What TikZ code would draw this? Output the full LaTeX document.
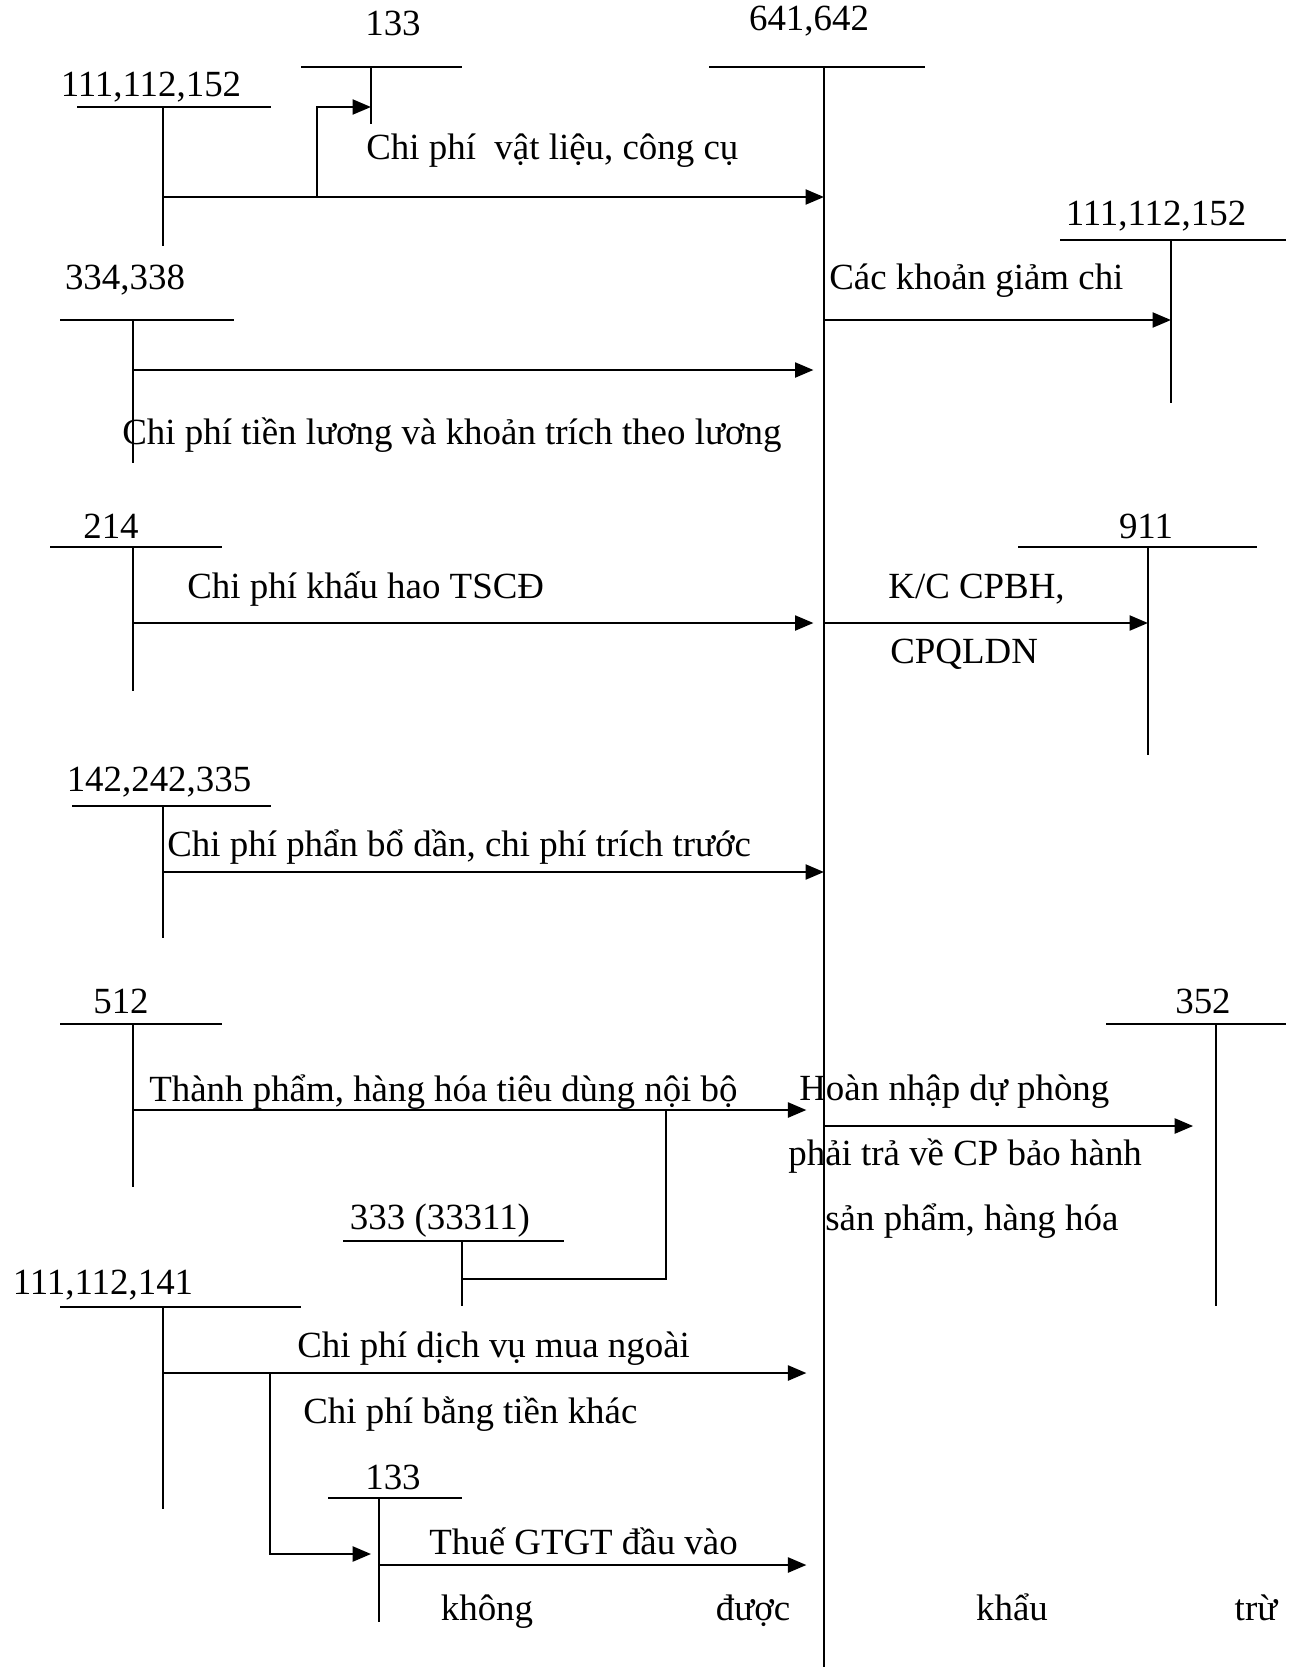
\documentclass[tikz,border=0pt]{standalone}
\usepackage{fontspec}
\setmainfont{Liberation Serif}
\usetikzlibrary{arrows.meta}
\tikzset{
    tline/.style = {line width=0.9pt},
    edgen/.style = {-{Triangle[length=10.5pt,width=8.5pt]},line width=1.4pt},
    edgep/.style = {line width=1.4pt},
    gap/.style = {shorten >=#1},
    acc/.style = {inner sep=0pt,font=\fontsize{21}{25}\selectfont},
    txt/.style = {anchor=west,inner sep=0pt,font=\fontsize{21}{25}\selectfont},
    word/.style = {anchor=base,inner sep=0pt,font=\fontsize{21}{25}\selectfont},
}
% T account: name, x, y of bar, left end, right end, bottom
\newcommand{\Tacc}[6]{%
  \coordinate (#1) at (#2,#3);
  \coordinate (#1-l) at (#4,#3);
  \coordinate (#1-r) at (#5,#3);
  \coordinate (#1-b) at (#2,#6);
  \draw[tline] (#1-l) -- (#1-r);
  \draw[tline] (#1) -- (#1-b);
}
\begin{document}
\begin{tikzpicture}[x=0.02cm,y=-0.02cm]
\useasboundingbox (0,0) rectangle (1299,1667);
% accounts
\Tacc{t133a}{371}{67}{301}{462}{124}
\Tacc{tA}{163}{107}{77}{271}{246}
\Tacc{t641}{824}{67}{709}{925}{1667}
\Tacc{tB}{1171}{240}{1060}{1286}{403}
\Tacc{t334}{133}{320}{60}{234}{463}
\Tacc{t214}{133}{547}{50}{222}{691}
\Tacc{t911}{1148}{547}{1018}{1257}{755}
\Tacc{t142}{163}{806}{72}{271}{938}
\Tacc{t512}{133}{1024}{60}{222}{1187}
\Tacc{t333}{462}{1241}{343}{564}{1306}
\Tacc{t352}{1216}{1024}{1106}{1286}{1306}
\Tacc{t111}{163}{1307}{60}{301}{1509}
\Tacc{t133b}{379}{1498}{328}{462}{1622}
%
\node[acc] at (393,23) (n133a) {133};
\node[acc] at (151,87) (nA) {111,112,152};
\node[acc] at (809,21) (n641) {641,642};
\node[acc] at (1156,216) (nB) {111,112,152};
\node[acc] at (125,280) (n334) {334,338};
\node[acc] at (111,526) (n214) {214};
\node[acc] at (1146,526) (n911) {911};
\node[acc] at (159,782) (n142) {142,242,335};
\node[acc] at (121,1001) (n512) {512};
\node[acc] at (440,1221) (n333) {333 (33311)};
\node[acc] at (1203,1001) (n352) {352};
\node[acc] at (103,1285) (n111) {111,112,141};
\node[acc] at (393,1477) (n133b) {133};
%
\node[txt] at (366,151) (vl) {Chi phí~ vật liệu, công cụ};
\node[txt] at (829,281) (gc) {Các khoản giảm chi};
\node[txt] at (122,435) (tl) {Chi phí tiền lương và khoản trích theo lương};
\node[txt] at (187,589) (kh) {Chi phí khấu hao TSCĐ};
\node[txt] at (888,589) (kc1) {K/C CPBH,};
\node[txt] at (890,654) (kc2) {CPQLDN};
\node[txt] at (167,847) (pb) {Chi phí phẩn bổ dần, chi phí trích trước};
\node[txt] at (149,1092) (tp) {Thành phẩm, hàng hóa tiêu dùng nội bộ};
\node[txt] at (799,1092) (hn1) {Hoàn nhập dự phòng};
\node[txt] at (788,1156) (hn2) {phải trả về CP bảo hành};
\node[txt] at (825,1221) (hn3) {sản phẩm, hàng hóa};
\node[txt] at (297,1349) (dv) {Chi phí dịch vụ mua ngoài};
\node[txt] at (303,1414) (bt) {Chi phí bằng tiền khác};
\node[txt] at (429,1541) (gt) {Thuế GTGT đầu vào};
\node[word] at (487,1620) (w1) {không};
\node[word] at (753,1620) (w2) {được};
\node[word] at (1012,1620) (w3) {khẩu};
\node[word] at (1256,1620) (w4) {trừ};
%
\coordinate (br1) at (317,197);
\coordinate (br2) at (270,1373);
\coordinate (j1) at (666,1110);
\draw[edgen] (tA |- 0,197) -- (t641 |- 0,197);
\draw[edgen] (br1) |- (t133a |- tA);
\draw[edgen] (t641 |- 0,320) -- (tB |- 0,320);
\draw[edgen,gap=6pt] (t334 |- 0,370) -- (t641 |- 0,370);
\draw[edgen,gap=6pt] (t214 |- 0,623) -- (t641 |- 0,623);
\draw[edgen] (t641 |- 0,623) -- (t911 |- 0,623);
\draw[edgen] (t142 |- 0,872) -- (t641 |- 0,872);
\draw[edgen,gap=10pt] (t512 |- 0,1110) -- (t641 |- 0,1110);
\draw[edgep] (t333 |- 0,1279) -| (j1);
\draw[edgen,gap=13pt] (t641 |- 0,1126) -- (t352 |- 0,1126);
\draw[edgen,gap=10pt] (t111 |- 0,1373) -- (t641 |- 0,1373);
\draw[edgen,gap=4.5pt] (br2) |- (t133b |- 0,1554);
\draw[edgen,gap=10pt] (t133b |- 0,1565) -- (t641 |- 0,1565);

\end{tikzpicture}
\end{document}
